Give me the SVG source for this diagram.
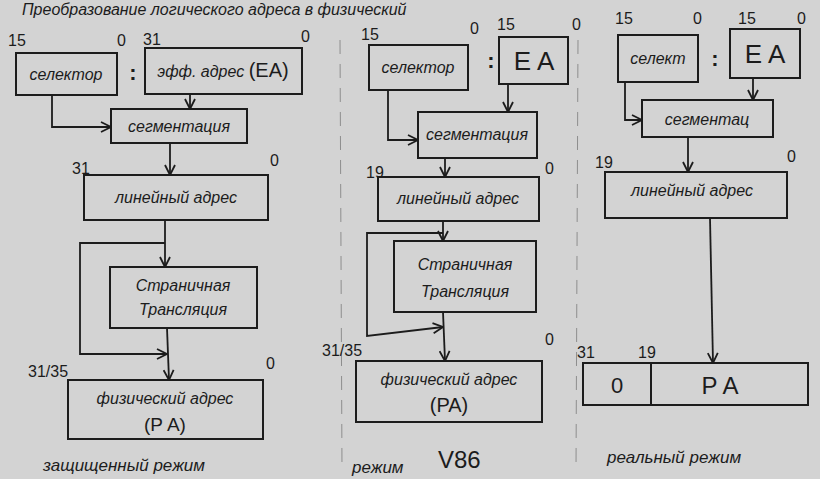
<svg xmlns="http://www.w3.org/2000/svg" width="820" height="479" viewBox="0 0 820 479">
<style>
.bg{fill:#d3d3d3}
.box{fill:none;stroke:#1c1c1c;stroke-width:2}
.ln{fill:none;stroke:#1c1c1c;stroke-width:1.8}
.sep{fill:none;stroke:#8e8e8e;stroke-width:1;stroke-dasharray:14 10}
text{font-family:"Liberation Sans","DejaVu Sans",sans-serif;fill:#1c1c1c}
.t{font-size:16px;text-anchor:middle;font-style:italic}
.n{font-size:16px}
.big{font-size:26px;text-anchor:middle}
.lbl{font-size:17px;font-style:italic}
</style>
<defs>
<marker id="ar" viewBox="0 0 12 12" refX="11" refY="6" markerWidth="12" markerHeight="12" markerUnits="userSpaceOnUse" orient="auto">
<path d="M1,1 L11,6 L1,11" fill="none" stroke="#1c1c1c" stroke-width="1.8"/>
</marker>
</defs>
<rect class="bg" x="0" y="0" width="820" height="479"/>
<text x="22" y="15" style="font-size:16px;font-style:italic">Преобразование логического адреса в физический</text>
<line class="sep" x1="340" y1="40" x2="342" y2="470"/>
<line class="sep" x1="578" y1="40" x2="576" y2="470"/>

<g id="connectors">
<line class="ln" x1="190" y1="94" x2="190" y2="109" marker-end="url(#ar)"/>
<path class="ln" d="M52,95 V127 H111" marker-end="url(#ar)"/>
<line class="ln" x1="170" y1="143" x2="170" y2="175" marker-end="url(#ar)"/>
<line class="ln" x1="165" y1="220" x2="165" y2="267" marker-end="url(#ar)"/>
<path class="ln" d="M165,243 H80 V354 H167" marker-end="url(#ar)"/>
<line class="ln" x1="167" y1="328" x2="169" y2="380" marker-end="url(#ar)"/>

<line class="ln" x1="508" y1="84" x2="508" y2="112" marker-end="url(#ar)"/>
<path class="ln" d="M388,90 V140 H418" marker-end="url(#ar)"/>
<line class="ln" x1="445" y1="158" x2="445" y2="177" marker-end="url(#ar)"/>
<line class="ln" x1="443" y1="221" x2="443" y2="241" marker-end="url(#ar)"/>
<path class="ln" d="M443,233 H367 V336 L443,327" marker-end="url(#ar)"/>
<line class="ln" x1="443" y1="312" x2="445" y2="361" marker-end="url(#ar)"/>

<line class="ln" x1="753" y1="78" x2="753" y2="100" marker-end="url(#ar)"/>
<path class="ln" d="M625,82 V120 H642" marker-end="url(#ar)"/>
<line class="ln" x1="688" y1="137" x2="688" y2="172" marker-end="url(#ar)"/>
<line class="ln" x1="710" y1="218" x2="713" y2="363" marker-end="url(#ar)"/>
</g>

<g id="protected-labels">
<text class="n" x="8" y="46">15</text>
<text class="n" x="117" y="46">0</text>
<text class="n" x="143" y="45">31</text>
<text class="n" x="301" y="42">0</text>
<text x="133" y="80" style="font-size:22px;font-weight:bold;text-anchor:middle">:</text>
<text class="n" x="72" y="174">31</text>
<text class="n" x="270" y="166">0</text>
<text class="n" x="28" y="377">31/35</text>
<text class="n" x="266" y="369">0</text>
<text class="lbl" x="43" y="471">защищенный режим</text>
</g>
<g id="sel1"><rect class="box" x="16" y="53" width="101" height="42"/><text class="t" x="66" y="80">селектор</text></g>
<g id="ea1"><rect class="box" x="145" y="48" width="157" height="46"/><text class="t" x="223" y="77">эфф. адрес <tspan style="font-size:20px;font-style:normal">(EA)</tspan></text></g>
<g id="seg1"><rect class="box" x="111" y="109" width="136" height="34"/><text class="t" x="179" y="132">сегментация</text></g>
<g id="lin1"><rect class="box" x="84" y="175" width="184" height="45"/><text class="t" x="176" y="203">линейный адрес</text></g>
<g id="page1"><rect class="box" x="110" y="267" width="147" height="61"/><text class="t" x="183" y="291">Страничная</text><text class="t" x="183" y="315">Трансляция</text></g>
<g id="phys1"><rect class="box" x="68" y="380" width="195" height="59"/><text class="t" x="165" y="404">физический адрес</text><text x="165" y="431" style="font-size:19px;text-anchor:middle">(P A)</text></g>

<g id="v86-labels">
<text class="n" x="361" y="40">15</text>
<text class="n" x="470" y="34">0</text>
<text class="n" x="497" y="30">15</text>
<text class="n" x="572" y="30">0</text>
<text x="491" y="68" style="font-size:22px;font-weight:bold;text-anchor:middle">:</text>
<text class="n" x="366" y="178">19</text>
<text class="n" x="545" y="174">0</text>
<text class="n" x="322" y="356">31/35</text>
<text class="n" x="545" y="345">0</text>
<text class="lbl" x="352" y="473">режим</text>
<text x="438" y="468" style="font-size:24px">V86</text>
</g>
<g id="sel2"><rect class="box" x="369" y="45" width="99" height="45"/><text class="t" x="418" y="73">селектор</text></g>
<g id="ea2"><rect class="box" x="499" y="37" width="69" height="47"/><text class="big" x="534" y="70">E A</text></g>
<g id="seg2"><rect class="box" x="418" y="112" width="119" height="46"/><text class="t" x="477" y="140">сегментация</text></g>
<g id="lin2"><rect class="box" x="378" y="177" width="161" height="44"/><text class="t" x="458" y="204">линейный адрес</text></g>
<g id="page2"><rect class="box" x="394" y="241" width="142" height="71"/><text class="t" x="465" y="270">Страничная</text><text class="t" x="465" y="297">Трансляция</text></g>
<g id="phys2"><rect class="box" x="356" y="361" width="186" height="61"/><text class="t" x="449" y="385">физический адрес</text><text x="449" y="412" style="font-size:20px;text-anchor:middle">(PA)</text></g>

<g id="real-labels">
<text class="n" x="615" y="24">15</text>
<text class="n" x="693" y="24">0</text>
<text class="n" x="738" y="24">15</text>
<text class="n" x="797" y="24">0</text>
<text x="715" y="66" style="font-size:22px;font-weight:bold;text-anchor:middle">:</text>
<text class="n" x="595" y="168">19</text>
<text class="n" x="787" y="162">0</text>
<text class="n" x="577" y="358">31</text>
<text class="n" x="638" y="358">19</text>
<text class="lbl" x="607" y="463">реальный режим</text>
</g>
<g id="sel3"><rect class="box" x="618" y="35" width="80" height="47"/><text class="t" x="658" y="64">селект</text></g>
<g id="ea3"><rect class="box" x="730" y="29" width="70" height="49"/><text class="big" x="765" y="63">E A</text></g>
<g id="seg3"><rect class="box" x="642" y="100" width="131" height="37"/><text class="t" x="707" y="125">сегментац</text></g>
<g id="lin3"><rect class="box" x="605" y="172" width="182" height="46"/><text class="t" x="692" y="196">линейный адрес</text></g>
<g id="reg3"><rect class="box" x="583" y="363" width="225" height="42"/><line class="box" x1="651" y1="363" x2="651" y2="405"/><text x="617" y="393" style="font-size:22px;text-anchor:middle">0</text><text x="720" y="394" style="font-size:24px;text-anchor:middle">P A</text></g>
</svg>
